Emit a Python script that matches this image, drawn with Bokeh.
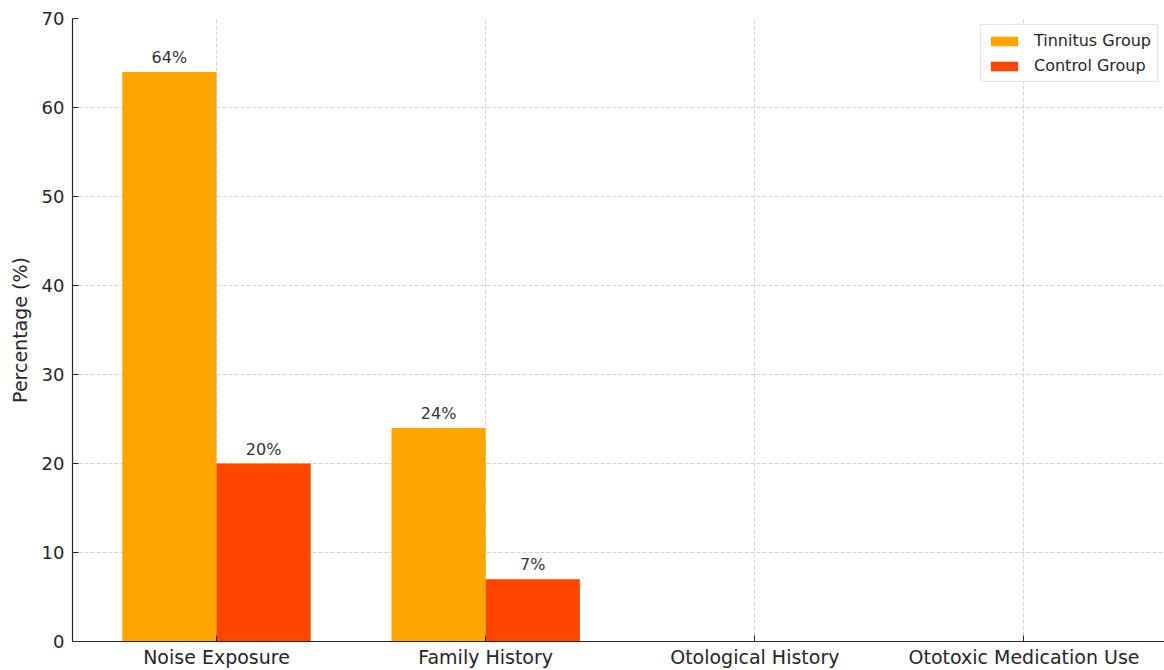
from bokeh.plotting import figure
from bokeh.models import ColumnDataSource, Range1d, FixedTicker, Legend, LegendItem
from bokeh.transform import dodge
from bokeh.core.properties import value
from bokeh.embed import file_html
from bokeh.resources import INLINE

# Risk factor prevalence by group
categories = ["Noise Exposure", "Family History", "Otological History", "Ototoxic Medication Use"]
tinnitus_pct = [64, 24, 0, 0]
control_pct = [20, 7, 0, 0]
y_ticks = [0, 10, 20, 30, 40, 50, 60, 70]

FONT = "DejaVu Sans"
BAR_W = 0.35
ORANGE = "#FFA500"
RED = "#FF4500"
INK = "#262626"

idx = list(range(len(categories)))
src = ColumnDataSource(dict(
    x=idx,
    tinnitus=tinnitus_pct,
    control=control_pct,
    t_lbl=[f"{v}%" if v > 0 else "" for v in tinnitus_pct],
    c_lbl=[f"{v}%" if v > 0 else "" for v in control_pct],
))

p = figure(width=1164, height=670, output_backend="svg", toolbar_location=None,
           x_range=Range1d(-0.535, 3.522), y_range=Range1d(0, 70),
           min_border_left=72, min_border_right=0, min_border_top=18, min_border_bottom=29)
p.title.visible = False
p.outline_line_color = None
p.background_fill_color = "white"
p.border_fill_color = "white"

r_t = p.vbar(x=dodge("x", -BAR_W / 2, range=p.x_range), top="tinnitus", width=BAR_W,
             source=src, fill_color=ORANGE, line_color=None)
r_c = p.vbar(x=dodge("x", BAR_W / 2, range=p.x_range), top="control", width=BAR_W,
             source=src, fill_color=RED, line_color=None)

lbl_style = dict(text_font=value(FONT), text_font_size="16px", text_color="#333333",
                 text_align="center", text_baseline="bottom", y_offset=-5, source=src)
p.text(x=dodge("x", -BAR_W / 2, range=p.x_range), y="tinnitus", text="t_lbl", **lbl_style)
p.text(x=dodge("x", BAR_W / 2, range=p.x_range), y="control", text="c_lbl", **lbl_style)

# axes
p.xaxis.ticker = FixedTicker(ticks=idx)
p.xaxis.major_label_overrides = {i: c for i, c in enumerate(categories)}
p.yaxis.ticker = FixedTicker(ticks=y_ticks)
p.yaxis.axis_label = "Percentage (%)"
for ax in (p.xaxis, p.yaxis):
    ax.major_label_text_font = FONT
    ax.major_label_text_color = INK
    ax.axis_line_color = INK
    ax.axis_line_width = 1.2
    ax.major_tick_line_color = INK
    ax.major_tick_in = 6
    ax.major_tick_out = 0
    ax.minor_tick_line_color = None
p.xaxis.major_label_text_font_size = "19px"
p.yaxis.major_label_text_font_size = "18px"
p.xaxis.major_label_standoff = 4
p.yaxis.major_label_standoff = 8
p.yaxis.axis_label_text_font = FONT
p.yaxis.axis_label_text_font_size = "19px"
p.yaxis.axis_label_text_font_style = "normal"
p.yaxis.axis_label_text_color = INK
p.yaxis.axis_label_standoff = 8

for g in (p.xgrid, p.ygrid):
    g.grid_line_color = "#c8c8c8"
    g.grid_line_dash = "4 2"
    g.grid_line_width = 0.8

legend = Legend(items=[LegendItem(label="Tinnitus Group", renderers=[r_t]),
                       LegendItem(label="Control Group", renderers=[r_c])],
                location="top_right", margin=6, padding=6, spacing=6,
                glyph_width=34, glyph_height=12, label_standoff=13,
                label_text_font=FONT, label_text_font_size="16px",
                label_text_color=INK,
                border_line_color="#cccccc", border_line_width=1,
                background_fill_alpha=0.9)
p.add_layout(legend)

open("out.html", "w").write(file_html(p, INLINE))
